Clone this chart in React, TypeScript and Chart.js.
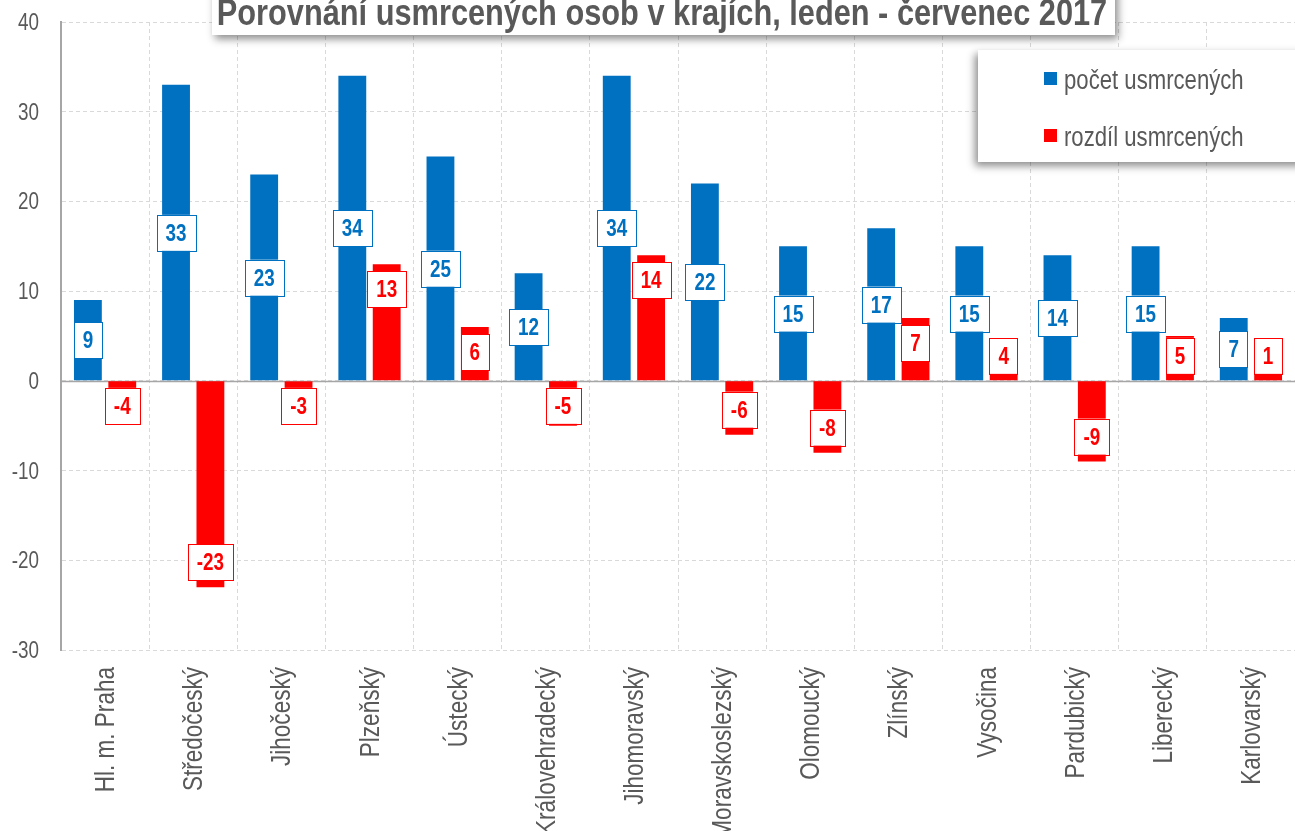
import React, { useEffect, useRef } from "react";
import { Chart, registerables } from "chart.js";

Chart.register(...registerables);

const categories = [
  "Hl. m. Praha",
  "Středočeský",
  "Jihočeský",
  "Plzeňský",
  "Ústecký",
  "Královehradecký",
  "Jihomoravský",
  "Moravskoslezský",
  "Olomoucký",
  "Zlínský",
  "Vysočina",
  "Pardubický",
  "Liberecký",
  "Karlovarský",
];
const pocet = [9, 33, 23, 34, 25, 12, 34, 22, 15, 17, 15, 14, 15, 7];
const rozdil = [-4, -23, -3, 13, 6, -5, 14, -6, -8, 7, 4, -9, 5, 1];
const seriesNames = ["počet usmrcených", "rozdíl usmrcených"];
const titleText = "Porovnání usmrcených osob v krajích, leden - červenec 2017";
const yMin = -30;
const yMax = 40;
const yStep = 10;

const BLUE = "#0070C0";
const RED = "#FF0000";
const GRAY_TEXT = "#595959";
const FONT = '"Liberation Sans", Arial, sans-serif';
const NARROW = 0.82;

function narrowText(
  ctx: CanvasRenderingContext2D,
  text: string,
  x: number,
  y: number,
  opts: { size: number; bold?: boolean; color: string; align: CanvasTextAlign; baseline: CanvasTextBaseline; rotate?: number }
) {
  ctx.save();
  ctx.translate(x, y);
  if (opts.rotate) ctx.rotate(opts.rotate);
  ctx.scale(NARROW, 1);
  ctx.font = `${opts.bold ? "bold " : ""}${opts.size}px ${FONT}`;
  ctx.fillStyle = opts.color;
  ctx.textAlign = opts.align;
  ctx.textBaseline = opts.baseline;
  ctx.fillText(text, 0, 0);
  ctx.restore();
}

function narrowWidth(ctx: CanvasRenderingContext2D, text: string, size: number, bold: boolean) {
  ctx.save();
  ctx.font = `${bold ? "bold " : ""}${size}px ${FONT}`;
  const w = ctx.measureText(text).width * NARROW;
  ctx.restore();
  return w;
}

const labelPlugin = {
  id: "customDraw",
  beforeDatasetsDraw(chart: any) {
    const { ctx, chartArea, scales } = chart;
    const y0 = Math.round(scales.y.getPixelForValue(0)) + 0.5;
    ctx.save();
    ctx.strokeStyle = "#a6a6a6";
    ctx.lineWidth = 1.5;
    ctx.beginPath();
    ctx.moveTo(chartArea.left, y0);
    ctx.lineTo(chartArea.right, y0);
    ctx.stroke();
    ctx.restore();
  },
  afterDatasetsDraw(chart: any) {
    const { ctx, scales } = chart;
    const base = scales.y.getPixelForValue(0);
    const h = 36;
    const padX = 9;
    chart.data.datasets.forEach((ds: any, di: number) => {
      const meta = chart.getDatasetMeta(di);
      const color = di === 0 ? BLUE : RED;
      meta.data.forEach((bar: any, i: number) => {
        const v = ds.data[i];
        const txt = String(v);
        const w = Math.max(narrowWidth(ctx, txt, 23, true) + 2 * padX, 28);
        let top: number;
        if (di === 0) {
          top = (bar.y + base) / 2 - h / 2;
        } else if (v >= 0) {
          top = bar.y + 7;
          if (top + h > base - 7) top = base - 7 - h;
        } else {
          top = bar.y - 7 - h;
          if (top < base + 7) top = base + 7;
        }
        const left = bar.x - w / 2;
        ctx.save();
        ctx.fillStyle = "#ffffff";
        ctx.fillRect(left, top, w, h);
        ctx.strokeStyle = color;
        ctx.lineWidth = 1;
        ctx.strokeRect(Math.round(left) + 0.5, Math.round(top) + 0.5, Math.round(w), h);
        ctx.restore();
        narrowText(ctx, txt, bar.x, top + h / 2 + 8, {
          size: 23,
          bold: true,
          color,
          align: "center",
          baseline: "alphabetic",
        });
      });
    });
  },
  afterDraw(chart: any) {
    const { ctx, scales, chartArea } = chart;
    // Y tick labels
    scales.y.ticks.forEach((t: any, i: number) => {
      const y = scales.y.getPixelForTick(i);
      narrowText(ctx, String(t.value), chartArea.left - 22, y + 8, {
        size: 23,
        color: GRAY_TEXT,
        align: "right",
        baseline: "alphabetic",
      });
    });
    // X tick labels
    scales.x.ticks.forEach((t: any, i: number) => {
      const x = scales.x.getPixelForTick(i);
      narrowText(ctx, categories[i], x + 9, chartArea.bottom + 17, {
        size: 27.5,
        color: GRAY_TEXT,
        align: "right",
        baseline: "alphabetic",
        rotate: -Math.PI / 2,
      });
    });

    // Title box
    ctx.save();
    ctx.shadowColor = "rgba(0,0,0,0.45)";
    ctx.shadowBlur = 8;
    ctx.shadowOffsetX = 3;
    ctx.shadowOffsetY = 4;
    ctx.fillStyle = "#ffffff";
    ctx.fillRect(212, -20, 903, 55);
    ctx.restore();
    narrowText(ctx, titleText, 662, 25, {
      size: 37.5,
      bold: true,
      color: GRAY_TEXT,
      align: "center",
      baseline: "alphabetic",
    });

    // Legend box
    ctx.save();
    ctx.shadowColor = "rgba(0,0,0,0.45)";
    ctx.shadowBlur = 8;
    ctx.shadowOffsetX = -3;
    ctx.shadowOffsetY = 4;
    ctx.fillStyle = "#ffffff";
    ctx.fillRect(978, 50, 330, 112);
    ctx.restore();
    const items = [
      { name: seriesNames[0], color: BLUE, y: 78 },
      { name: seriesNames[1], color: RED, y: 135 },
    ];
    items.forEach((it) => {
      ctx.save();
      ctx.fillStyle = it.color;
      ctx.fillRect(1044, it.y - 6, 13, 13);
      ctx.restore();
      narrowText(ctx, it.name, 1064, it.y + 11, {
        size: 27,
        color: GRAY_TEXT,
        align: "left",
        baseline: "alphabetic",
      });
    });
  },
};

export default function App() {
  const ref = useRef<HTMLCanvasElement | null>(null);
  useEffect(() => {
    if (!ref.current) return;
    document.body.style.margin = "0";
    const chart = new Chart(ref.current, {
      type: "bar",
      data: {
        labels: categories,
        datasets: [
          {
            label: seriesNames[0],
            data: pocet,
            backgroundColor: BLUE,
            categoryPercentage: 0.78,
            barPercentage: 0.81,
          },
          {
            label: seriesNames[1],
            data: rozdil,
            backgroundColor: RED,
            categoryPercentage: 0.78,
            barPercentage: 0.81,
          },
        ],
      },
      options: {
        responsive: false,
        animation: false,
        devicePixelRatio: 1,
        layout: { padding: { top: 22, right: 0, left: 0, bottom: 0 } },
        plugins: {
          legend: { display: false },
          title: { display: false },
          tooltip: { enabled: false },
        },
        scales: {
          x: {
            offset: true,
            grid: {
              offset: true,
              color: "#d9d9d9",
              drawTicks: false,
              lineWidth: 1,
            },
            border: { display: false, dash: [4, 3] },
            ticks: { display: false, autoSkip: false },
            afterFit(scale: any) {
              scale.height = 181;
            },
          },
          y: {
            min: yMin,
            max: yMax,
            ticks: { display: false, stepSize: yStep },
            grid: {
              color: "#d9d9d9",
              drawTicks: false,
              lineWidth: 1,
            },
            border: { display: true, color: "#a6a6a6", width: 2, dash: [4, 3] },
            afterFit(scale: any) {
              scale.width = 61;
            },
          },
        },
      },
      plugins: [labelPlugin],
    });
    return () => chart.destroy();
  }, []);
  return (
    <div style={{ position: "fixed", left: 0, top: 0, width: 1295, height: 831, background: "#fff" }}>
      <canvas ref={ref} width={1295} height={831} style={{ display: "block" }} />
    </div>
  );
}
